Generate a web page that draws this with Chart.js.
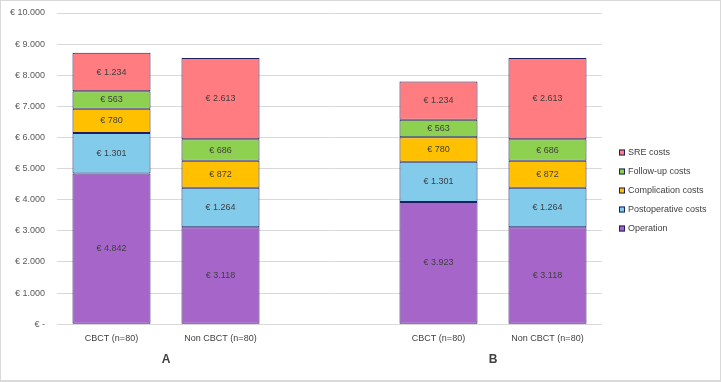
<!DOCTYPE html>
<html>
<head>
<meta charset="utf-8">
<script src="https://cdn.jsdelivr.net/npm/chart.js@4/dist/chart.umd.min.js"></script>
<style>
  html, body { margin: 0; padding: 0; background: #fff; }
  #wrap { width: 721px; height: 382px; box-sizing: border-box; border: 1px solid #d9d9d9; border-bottom-width: 2px; }
</style>
</head>
<body>
<div id="wrap"><canvas id="costChart"></canvas></div>
<script>
// categories (middle one left empty to split panel A and B)
const groups = ['CBCT (n=80)', 'Non CBCT (n=80)', '', 'CBCT (n=80)', 'Non CBCT (n=80)'];
const panelLabels = ['A', 'B'];

const operation     = [4842, 3118, null, 3923, 3118];
const postoperative = [1301, 1264, null, 1301, 1264];
const complication  = [780, 872, null, 780, 872];
const followUp      = [563, 686, null, 563, 686];
const sreCosts      = [1234, 2613, null, 1234, 2613];

const yTicks = [0, 1000, 2000, 3000, 4000, 5000, 6000, 7000, 8000, 9000, 10000];

const FONT = "'Liberation Sans', Arial, sans-serif";
const BORDER = '#1f1f5f';

function eur(v) {
  if (v === 0) return '€ -';
  return '€ ' + String(v).replace(/\B(?=(\d{3})+(?!\d))/g, '.');
}

function ds(label, data, color) {
  return {
    label: label,
    data: data,
    backgroundColor: color,
    borderColor: BORDER,
    borderWidth: 1,
    borderSkipped: false,
    barPercentage: 0.716,
    categoryPercentage: 1
  };
}

// value labels inside every segment, A / B panel letters and the legend on the right
const annotations = {
  id: 'annotations',
  afterDatasetsDraw(chart) {
    const ctx = chart.ctx;
    const area = chart.chartArea;
    ctx.save();
    ctx.font = '9px ' + FONT;
    ctx.fillStyle = '#404040';
    ctx.textAlign = 'center';
    ctx.textBaseline = 'middle';
    chart.data.datasets.forEach((d, i) => {
      const meta = chart.getDatasetMeta(i);
      meta.data.forEach((bar, j) => {
        const v = d.data[j];
        if (v == null) return;
        ctx.fillText(eur(v), bar.x, (bar.y + bar.base) / 2);
      });
    });

    const x = chart.scales.x;
    ctx.font = 'bold 12px ' + FONT;
    const ya = area.bottom + 35;
    ctx.fillText(panelLabels[0], (x.getPixelForValue(0) + x.getPixelForValue(1)) / 2, ya);
    ctx.fillText(panelLabels[1], (x.getPixelForValue(3) + x.getPixelForValue(4)) / 2, ya);

    // legend, top item = last dataset
    const sets = chart.data.datasets.slice().reverse();
    const step = 19;
    const lx = area.right + 17;
    let ly = chart.height / 2 - step * (sets.length - 1) / 2;
    ctx.font = '9px ' + FONT;
    ctx.textAlign = 'left';
    ctx.lineWidth = 1;
    sets.forEach(s => {
      ctx.fillStyle = s.backgroundColor;
      ctx.fillRect(lx, ly - 3, 6, 6);
      ctx.strokeStyle = BORDER;
      ctx.strokeRect(lx + 0.5, ly - 2.5, 5, 5);
      ctx.fillStyle = '#404040';
      ctx.fillText(s.label, lx + 9, ly);
      ly += step;
    });
    ctx.restore();
  }
};

new Chart(document.getElementById('costChart'), {
  type: 'bar',
  data: {
    labels: groups,
    datasets: [
      ds('Operation', operation, '#a665c9'),
      ds('Postoperative costs', postoperative, '#83cbeb'),
      ds('Complication costs', complication, '#ffc000'),
      ds('Follow-up costs', followUp, '#8ed150'),
      ds('SRE costs', sreCosts, '#ff7c80')
    ]
  },
  options: {
    responsive: true,
    maintainAspectRatio: false,
    animation: false,
    layout: { autoPadding: false, padding: { left: 0, right: 118, top: 12, bottom: 35 } },
    plugins: {
      tooltip: { enabled: false },
      legend: { display: false }
    },
    scales: {
      x: {
        stacked: true,
        grid: { display: false },
        border: { display: false },
        ticks: { color: '#404040', font: { family: FONT, size: 9 }, padding: 1 }
      },
      y: {
        stacked: true,
        min: 0,
        max: 10000,
        afterBuildTicks: (axis) => { axis.ticks = yTicks.map(v => ({ value: v })); },
        afterFit: (axis) => {
          axis.width = 56;
          axis.paddingTop = 0;
          axis.paddingBottom = 0;
        },
        grid: { color: '#d9d9d9', drawTicks: false },
        border: { display: false },
        ticks: {
          color: '#595959',
          font: { family: FONT, size: 9 },
          padding: 12,
          callback: (v) => eur(v)
        }
      }
    }
  },
  plugins: [annotations]
});
</script>
</body>
</html>
